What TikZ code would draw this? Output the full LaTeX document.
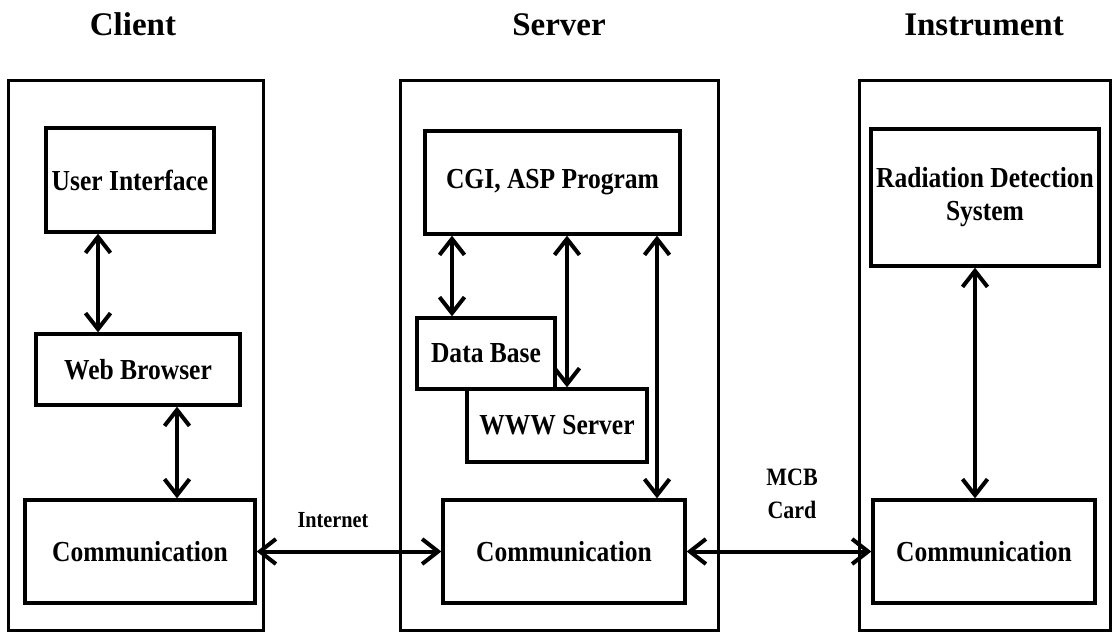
\documentclass[tikz,border=0pt]{standalone}
\usepackage{fontspec}
\setmainfont{Liberation Serif}
\newfontfamily\narrowserif{Liberation Serif}[FakeStretch=0.88]
\usetikzlibrary{arrows.meta}

\begin{document}
\begin{tikzpicture}[x=1pt,y=-1pt,
  frame/.style={draw,line width=3pt,inner sep=0pt},
  blk/.style={draw,line width=3.3pt,fill=white,inner sep=0pt,align=center,
    font=\narrowserif\bfseries\fontsize{29}{33}\selectfont},
  title/.style={anchor=base,font=\bfseries\fontsize{33}{36}\selectfont},
  lbl/.style={align=center,font=\narrowserif\bfseries\fontsize{23}{33}\selectfont},
  link/.style={line width=4pt,
    {Straight Barb[length=16pt,width=25pt]}-{Straight Barb[length=16pt,width=25pt]}}]
\useasboundingbox (0,0) rectangle (1118,632);

% column titles
\node[title] (tc) at (133,35) {Client};
\node[title] (ts) at (559,35) {Server};
\node[title] (ti) at (984,35) {Instrument};

% outer frames
\node[frame,minimum width=255pt,minimum height=550pt] (fc) at (135.5,355) {};
\node[frame,minimum width=318pt,minimum height=550pt] (fs) at (559,355) {};
\node[frame,minimum width=251pt,minimum height=550pt] (fi) at (984.5,355) {};

% client blocks
\node[blk,minimum width=168pt,minimum height=104pt] (ui) at (130,180) {User Interface};
\node[blk,minimum width=204pt,minimum height=71pt] (wb) at (138,369.5) {Web Browser};
\node[blk,minimum width=230pt,minimum height=103pt] (cc) at (140,551.5) {Communication};

% server blocks
\node[blk,minimum width=255pt,minimum height=103pt] (cgi) at (552.5,182.5) {CGI, ASP Program};
\node[blk,minimum width=180pt,minimum height=73pt] (www) at (557,425.5) {WWW Server};
\node[blk,minimum width=138pt,minimum height=71pt] (db) at (486,353.5) {Data Base};
\node[blk,minimum width=242pt,minimum height=103pt] (cs) at (564,551.5) {Communication};

% instrument blocks
\node[blk,minimum width=228pt,minimum height=137pt] (rds) at (985,197.5) {Radiation Detection\\System};
\node[blk,minimum width=222pt,minimum height=103pt] (ci) at (984,551.5) {Communication};

% columns of the vertical links
\coordinate (xa) at (98,0);
\coordinate (xb) at (177,0);
\coordinate (xc) at (452,0);
\coordinate (xd) at (567,0);
\coordinate (xe) at (657,0);
\coordinate (xf) at (975,0);

\draw[link] (ui.south -| xa) -- (wb.north -| xa);
\draw[link] (wb.south -| xb) -- (cc.north -| xb);
\draw[link] (cgi.south -| xc) -- (db.north -| xc);
\draw[link] (cgi.south -| xd) -- (www.north -| xd);
\draw[link] (cgi.south -| xe) -- (cs.north -| xe);
\draw[link] (rds.south -| xf) -- (ci.north -| xf);

% links between the three parts
\draw[link] (cc.east) -- (cs.west);
\draw[link] (cs.east) -- (ci.west);
\node[lbl] (inet) at (333,520) {Internet};
\node[lbl,font=\narrowserif\bfseries\fontsize{25}{33}\selectfont] (mcb) at (792,494) {MCB\\Card};
\end{tikzpicture}
\end{document}
